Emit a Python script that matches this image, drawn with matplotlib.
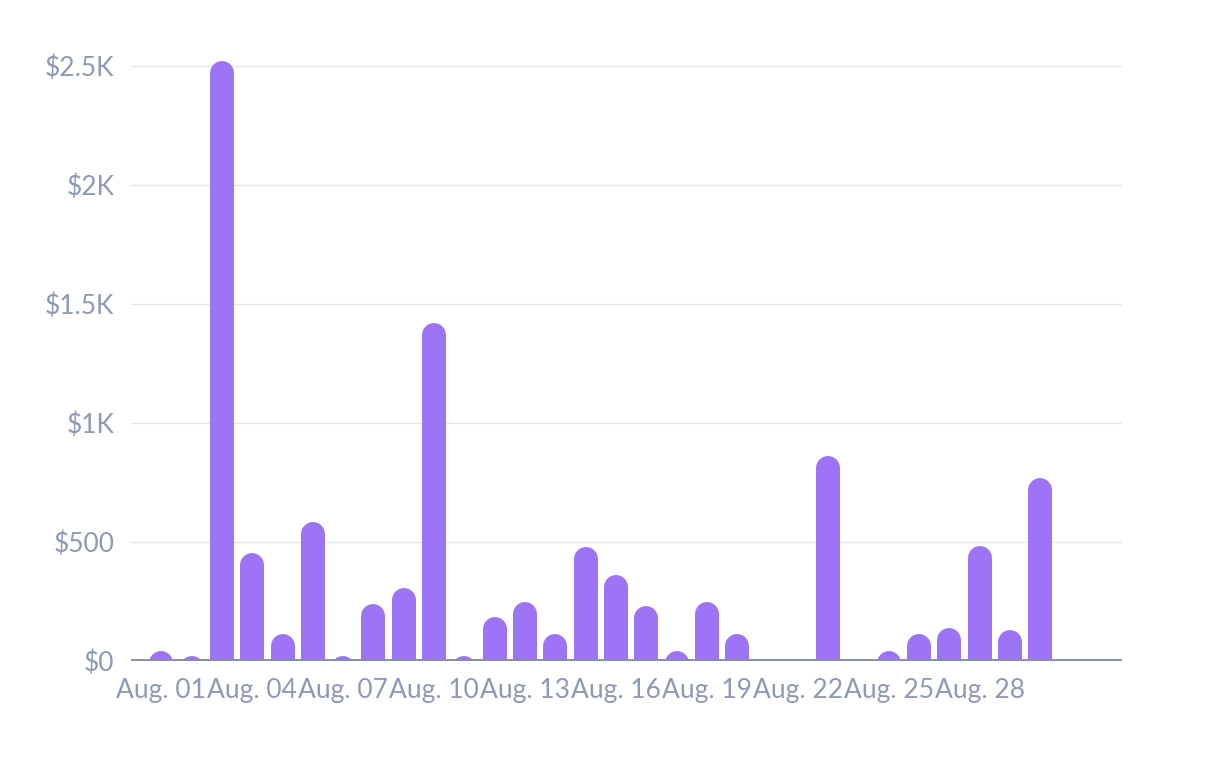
import matplotlib.pyplot as plt
from matplotlib.ticker import FuncFormatter

days = list(range(1, 31))
sales = [40, 20, 2520, 455, 115, 585, 20, 240, 305, 1420,
         20, 185, 250, 112, 480, 360, 230, 40, 250, 112,
         0, 0, 860, 0, 40, 112, 140, 485, 130, 770]
tick_days = [1, 4, 7, 10, 13, 16, 19, 22, 25, 28]
tick_labels = ['Aug. %02d' % d for d in tick_days]
y_ticks = [0, 500, 1000, 1500, 2000, 2500]

bar_color = '#9d74f5'
text_color = '#9098b8'

plt.rcParams['font.family'] = ['Lato', 'DejaVu Sans']

fig = plt.figure(figsize=(12.24, 7.6), dpi=100)
ax = fig.add_axes([131 / 1224, (760 - 661) / 760, (1122 - 131) / 1224, (661 - 40) / 760])
ax.set_xlim(0, 32.7)
ax.set_ylim(0, 2610)

# bar width in px -> rounded caps via thick lines
bar_px = 24
lw = bar_px * 72 / fig.dpi
radius = (bar_px / 2) * (2610 / ax.get_window_extent().height)
for d, v in zip(days, sales):
    if v <= 0:
        continue
    ax.plot([d, d], [-radius * 2, v - radius], color=bar_color, lw=lw,
            solid_capstyle='round', zorder=3)

for y in y_ticks[1:]:
    ax.axhline(y, color='#e6e6ee', lw=1, zorder=1)
ax.axhline(0, color='#888eae', lw=2.8, zorder=4)

for s in ax.spines.values():
    s.set_visible(False)

ax.set_yticks(y_ticks)
ax.yaxis.set_major_formatter(FuncFormatter(
    lambda v, p: '$0' if v == 0 else ('$%gK' % (v / 1000) if v >= 1000 else '$%d' % v)))
ax.set_xticks(tick_days)
ax.set_xticklabels(tick_labels)
ax.tick_params(axis='both', length=0, labelsize=19, labelcolor=text_color)
ax.tick_params(axis='y', pad=12)
ax.tick_params(axis='x', pad=12)

fig.savefig('out.png', dpi=100)
